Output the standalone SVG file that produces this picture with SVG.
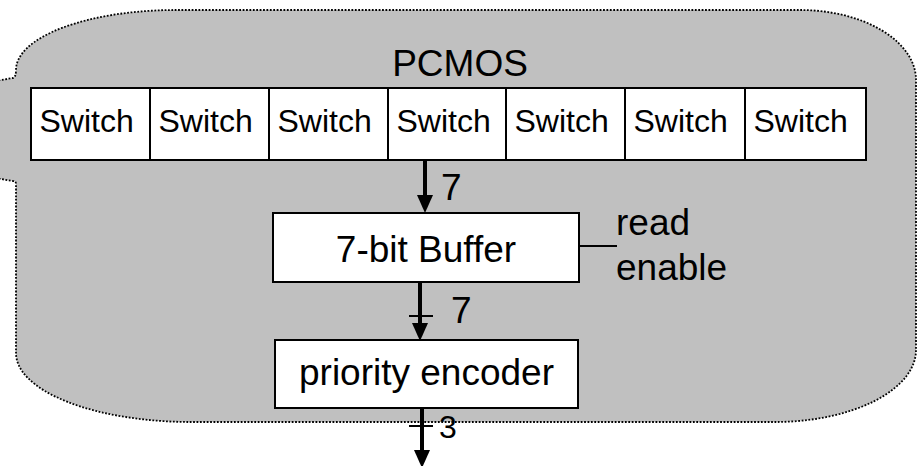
<svg xmlns="http://www.w3.org/2000/svg" width="923" height="466" viewBox="0 0 923 466">
<style>
.box{fill:#fff;stroke:#000;stroke-width:2}
.t{font-family:"Liberation Sans",Arial,sans-serif;fill:#000}
.sw{font-size:32px}
.big{font-size:37px}
.stem{stroke:#000;stroke-width:4;fill:none}
.thin{stroke:#000;stroke-width:2;fill:none}
</style>
<defs>
<marker id="ah" markerUnits="userSpaceOnUse" markerWidth="18" markerHeight="16" viewBox="0 0 18 16" refX="0" refY="8" orient="auto">
<path d="M0,0 L18,8 L0,16 Z" fill="#000"/>
</marker>
</defs>
<rect width="923" height="466" fill="#fff"/>
<g id="pcmos">
<path d="M-300,130 L13,78 Q16,77 16,70 A160 60 0 0 1 176 10 L800 10 A116 70 0 0 1 916 80 L916 350 A141 72 0 0 1 775 422 L191 422 A175 69 0 0 1 16 353 L16 184 Q16 181 13 181 Z" fill="#C0C0C0" stroke="#000" stroke-width="1.8" stroke-dasharray="1.8 1.6"/>
<text class="t big" x="460" y="76" text-anchor="middle">PCMOS</text>
</g>
<g id="switches">
<rect class="box" x="31" y="88" width="835" height="72"/>
<path class="box" d="M150,88 V160 M269,88 V160 M388,88 V160 M506,88 V160 M625,88 V160 M745,88 V160"/>
<text class="t sw" x="39.5" y="132">Switch</text>
<text class="t sw" x="158.5" y="132">Switch</text>
<text class="t sw" x="277.5" y="132">Switch</text>
<text class="t sw" x="396.5" y="132">Switch</text>
<text class="t sw" x="514.5" y="132">Switch</text>
<text class="t sw" x="633.5" y="132">Switch</text>
<text class="t sw" x="753.5" y="132">Switch</text>
</g>
<g id="buffer">
<rect class="box" x="273" y="213" width="306" height="69"/>
<text class="t big" x="426" y="262" text-anchor="middle">7-bit Buffer</text>
</g>
<g id="encoder">
<rect class="box" x="275" y="340" width="303" height="68"/>
<text class="t big" x="426.5" y="385" text-anchor="middle">priority encoder</text>
</g>
<g id="readenable">
<text class="t big" x="616" y="235">read</text>
<text class="t big" x="616" y="280">enable</text>
</g>
<g id="connectors">
<line class="stem" x1="425" y1="161" x2="425" y2="195" marker-end="url(#ah)"/>
<text class="t big" x="441" y="200">7</text>
<line class="stem" x1="420" y1="283" x2="420" y2="323" marker-end="url(#ah)"/>
<line class="thin" x1="409" y1="316" x2="433" y2="316"/>
<text class="t big" x="451" y="323">7</text>
<line class="stem" x1="422" y1="409" x2="422" y2="450" marker-end="url(#ah)"/>
<line class="thin" x1="409" y1="426" x2="433" y2="426"/>
<text class="t" style="font-size:32px" x="439" y="438">3</text>
<line class="thin" x1="579" y1="246" x2="617" y2="246"/>
</g>
</svg>
